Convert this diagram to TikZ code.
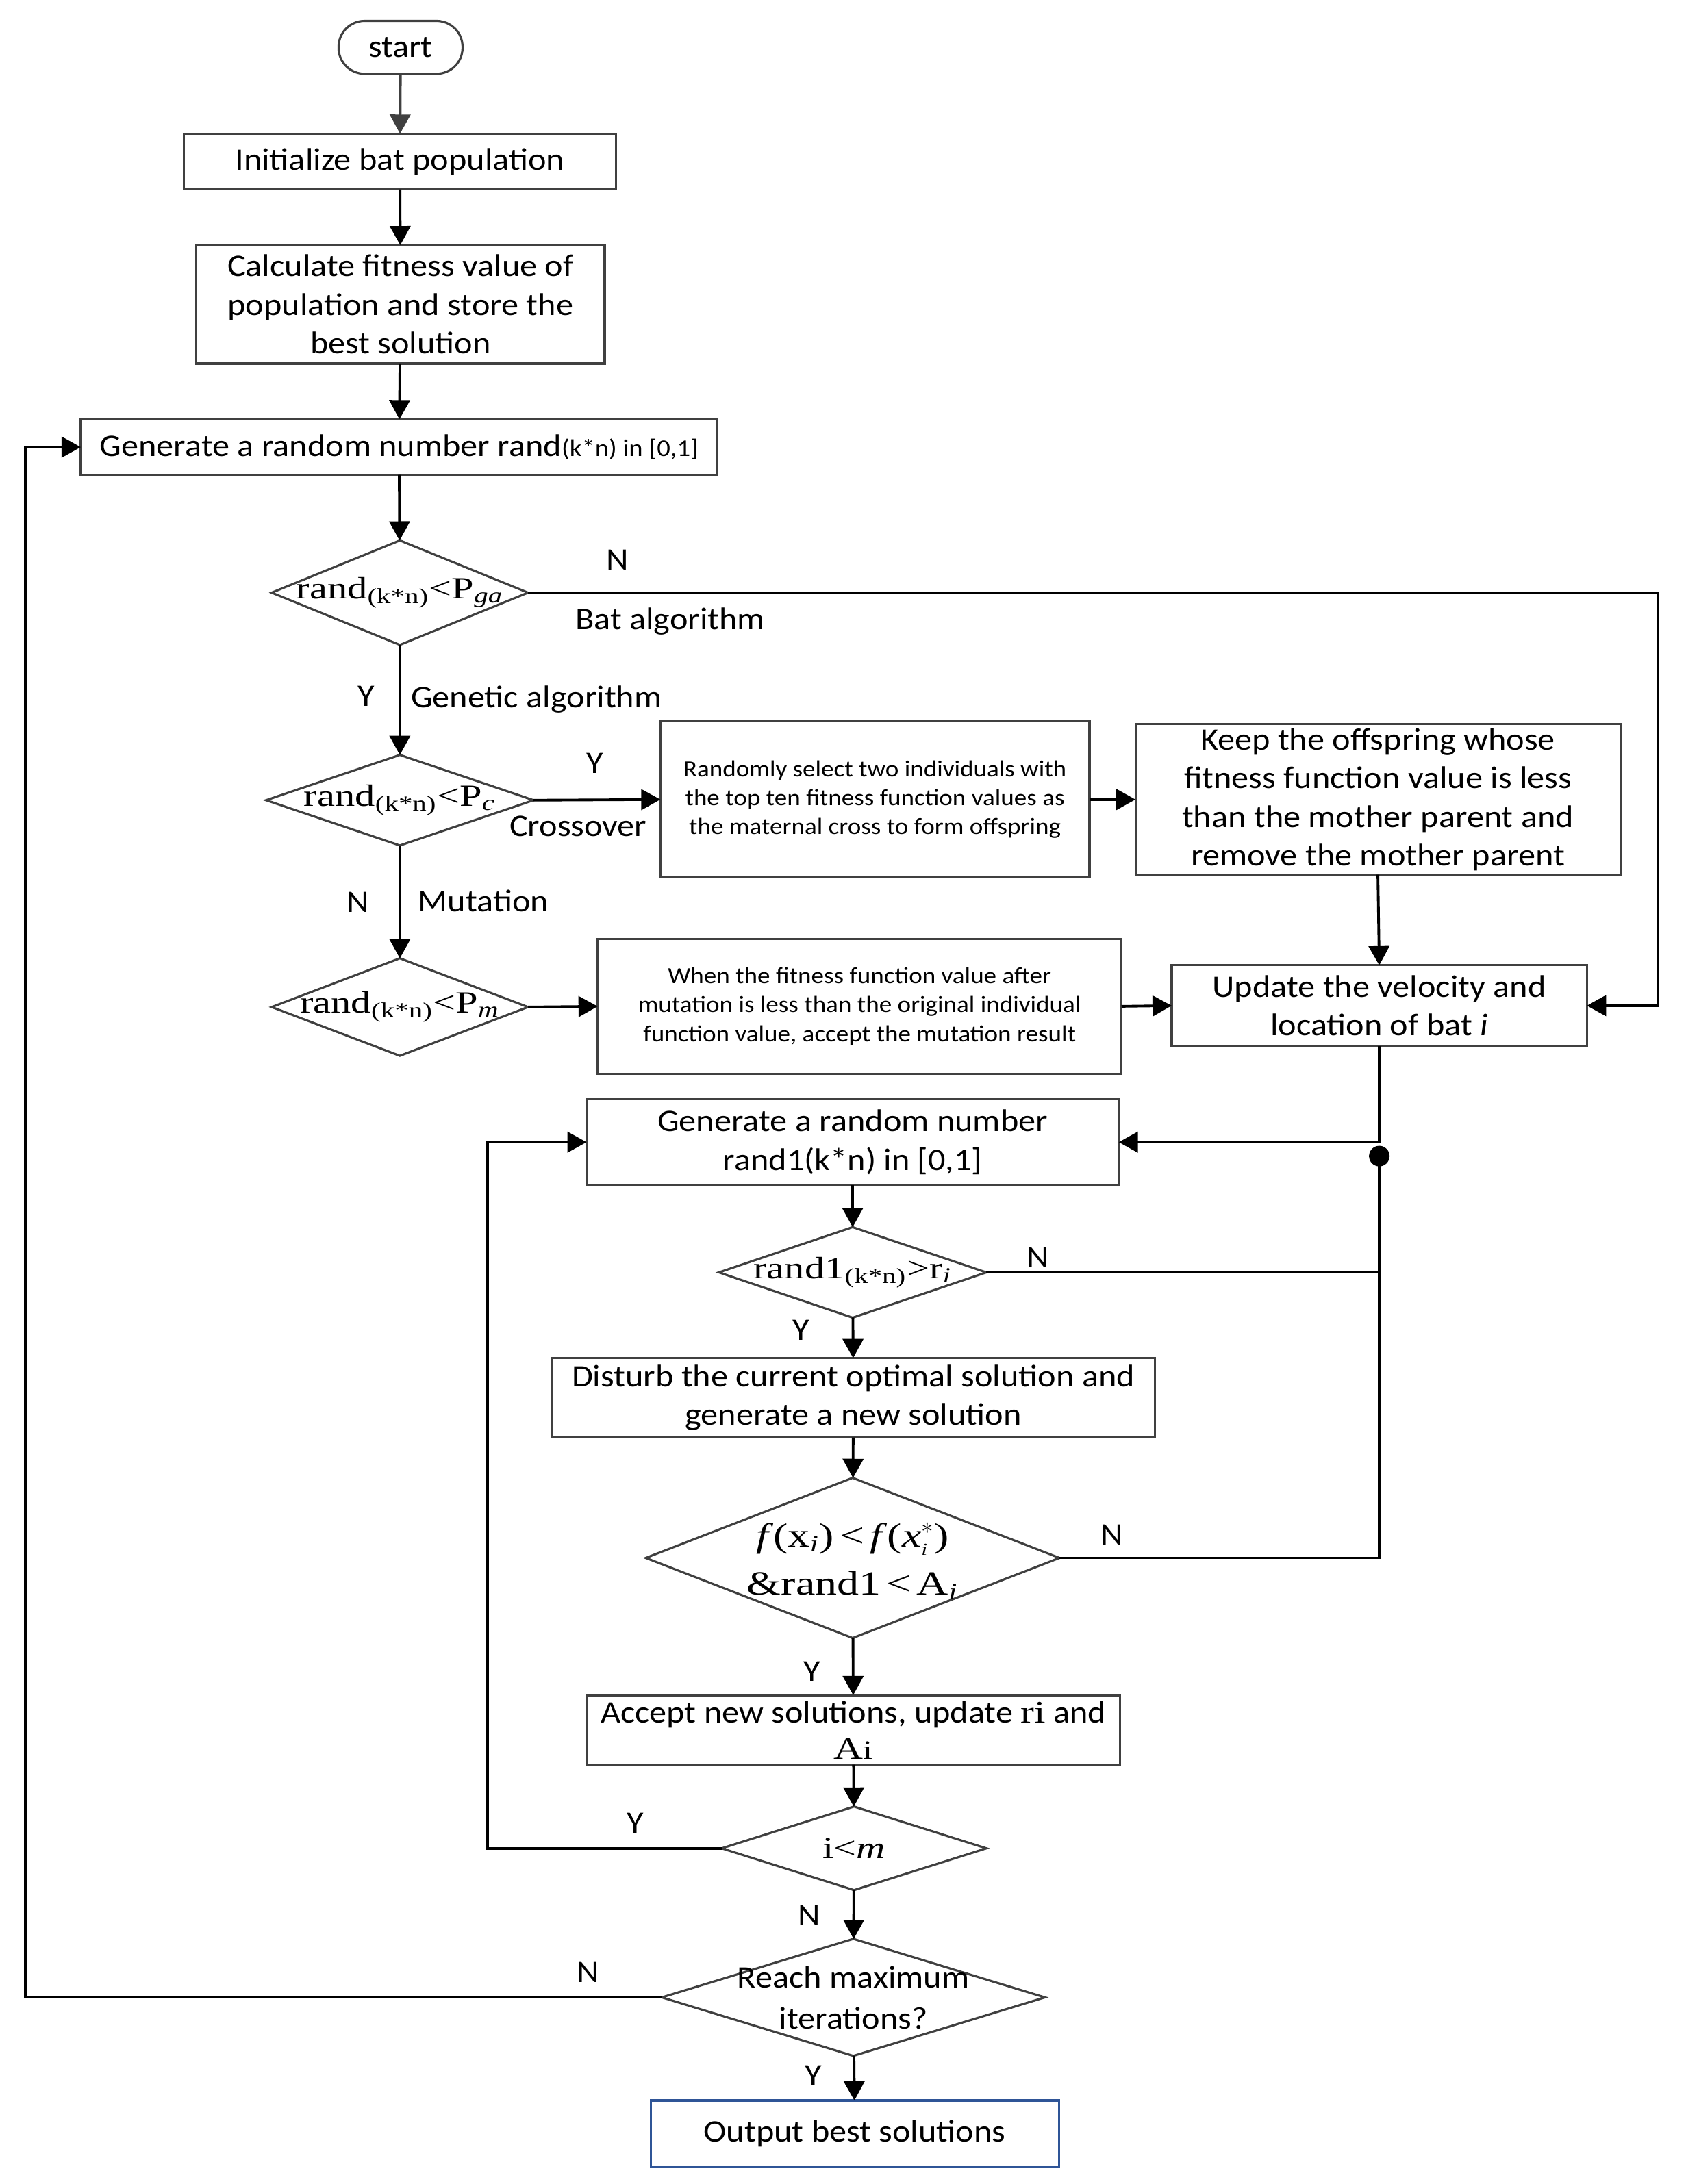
\documentclass[tikz,border=0pt]{standalone}
\usepackage{fontspec}
\setmainfont{Carlito}[FakeStretch=1.1]
\newfontfamily\serif{Liberation Serif}[FakeStretch=1.3]
\usetikzlibrary{shapes.geometric,arrows.meta}
\definecolor{boxgray}{RGB}{64,64,64}
\definecolor{outblue}{RGB}{47,85,151}
\def\u{0.020347cm}
\tikzset{
  box/.style={draw=boxgray, line width=0.9pt, fill=white, align=center, inner sep=0pt, outer sep=0pt,
    font=\fontsize{13}{16}\selectfont},
  smallbox/.style={box, font=\fontsize{9.6}{12}\selectfont},
  dia/.style={draw=boxgray, line width=0.9pt, diamond, inner sep=0pt, outer sep=0pt, fill=white},
  diatext/.style={align=center, inner sep=0pt, font=\serif\fontsize{12.8}{21}\selectfont},
  arr/.style={line width=1.1pt, -{Triangle[length=0.28cm,width=0.3cm]}},
  ln/.style={line width=1.1pt},
  lab/.style={font=\fontsize{13}{16}\selectfont, inner sep=0pt},
}
\begin{document}
\begin{tikzpicture}[x=0.020347cm, y=-0.020347cm]
\useasboundingbox[fill=white] (0,0) rectangle (1210,1568);

% nodes
\node[box, rounded corners=0.38cm, minimum width=89*\u, minimum height=38*\u] (start) at (287.5,34) {start};
\node[box, minimum width=310*\u, minimum height=40*\u] (init) at (287,116) {Initialize bat population};
\node[box, minimum width=293*\u, minimum height=85*\u] (calc) at (287.5,218.5) {Calculate fitness value of\\population and store the\\best solution};
\node[box, minimum width=457*\u, minimum height=40*\u] (gen) at (286.5,321) {Generate a random number rand{\fontsize{10}{12}\selectfont(k*n) in [0,1]}};

\node[dia, minimum width=184*\u, minimum height=75*\u] (d1) at (287,425.5) {};
\node[diatext] (d1t) at (d1) {rand\textsubscript{(k*n)}<P\textsubscript{\textit{ga}}};
\node[dia, minimum width=192*\u, minimum height=65*\u] (d2) at (287,574.5) {};
\node[diatext] (d2t) at (d2) {rand\textsubscript{(k*n)}<P\textsubscript{\textit{c}}};
\node[dia, minimum width=184*\u, minimum height=70*\u] (d3) at (287,723) {};
\node[diatext] (d3t) at (d3) {rand\textsubscript{(k*n)}<P\textsubscript{\textit{m}}};

\node[smallbox, minimum width=308*\u, minimum height=112*\u] (rsel) at (628,574) {Randomly select two individuals with\\the top ten fitness function values as\\the maternal cross to form offspring};
\node[box, minimum width=348*\u, minimum height=108*\u, font=\fontsize{13}{16}\selectfont] (keep) at (989,574) {Keep the offspring whose\\fitness function value is less\\than the mother parent and\\remove the mother parent};
\node[smallbox, minimum width=376*\u, minimum height=97*\u] (when) at (617,722.5) {When the fitness function value after\\mutation is less than the original individual\\function value, accept the mutation result};
\node[box, minimum width=298*\u, minimum height=58*\u] (upd) at (990,722) {Update the velocity and\\location of bat \textit{i}};

\node[box, minimum width=382*\u, minimum height=62*\u] (gen2) at (612,820) {Generate a random number\\rand1(k*n) in [0,1]};
\node[dia, minimum width=192*\u, minimum height=65*\u] (d4) at (612,913.5) {};
\node[diatext] (d4t) at (d4) {rand1\textsubscript{(k*n)}>r\textsubscript{\textit{i}}};
\node[box, minimum width=433*\u, minimum height=57*\u] (dist) at (612.5,1003.5) {Disturb the current optimal solution and\\generate a new solution};
\node[dia, minimum width=297*\u, minimum height=115*\u] (d5) at (612,1118.5) {};
\node[diatext, font=\serif\fontsize{14}{20}\selectfont] (d5t) at (612,1121) {\textit{f}(x\textsubscript{\textit{i}})\,<\,\textit{f}(\textit{x}$_{\mbox{\scriptsize\serif\textit{i}}}^{*}$)\\\&rand1\,<\,A\textsubscript{\textit{i}}};
\node[box, minimum width=383*\u, minimum height=50*\u, font=\fontsize{13}{15}\selectfont] (acc) at (612.5,1242) {Accept new solutions, update {\serif ri} and\\{\serif A\fontsize{11}{12}\selectfont i}};
\node[dia, minimum width=190*\u, minimum height=60*\u] (d6) at (613,1327) {};
\node[diatext] (d6t) at (d6) {i<\textit{m}};
\node[dia, minimum width=275*\u, minimum height=84*\u] (d7) at (612.5,1434) {};
\node[box, draw=none, fill=none, font=\fontsize{13}{17}\selectfont] (d7t) at (d7) {Reach maximum\\iterations?};
\node[box, draw=outblue, minimum width=293*\u, minimum height=48*\u] (out) at (613.5,1532) {Output best solutions};

% connectors
\draw[arr, draw=boxgray, -{Triangle[length=0.28cm,width=0.3cm,fill=boxgray]}] (start) -- (init);
\draw[arr] (init) -- (calc);
\draw[arr] (calc) -- (gen);
\draw[arr] (gen) -- (d1);
\coordinate (r1) at (1190,425.5);
\draw[arr] (d1.east) -- (r1) |- (upd.east);
\draw[arr] (d1) -- (d2);
\draw[arr] (d2.east) -- (rsel.west);
\draw[arr] (rsel.east) -- (keep.west);
\draw[arr] (keep.south) -- (upd.north);
\draw[arr] (d2) -- (d3);
\draw[arr] (d3.east) -- (when.west);
\draw[arr] (when.east) -- (upd.west);
\draw[arr] (upd.south) |- (gen2.east);
\coordinate (dot) at (990,830);
\fill (dot) circle (0.15cm);
\draw[ln] (d4.east) -| (dot);
\draw[ln] (d5.east) -| (dot);
\draw[arr] (gen2) -- (d4);
\draw[arr] (d4) -- (dist);
\draw[arr] (dist) -- (d5);
\draw[arr] (d5) -- (acc);
\draw[arr] (acc) -- (d6);
\coordinate (l2) at (350,1327);
\draw[arr] (d6.west) -- (l2) |- (gen2.west);
\draw[arr] (d6) -- (d7);
\coordinate (l1) at (18,1434);
\draw[arr] (d7.west) -- (l1) |- (gen.west);
\draw[arr] (d7) -- (out);

% labels
\node[lab] (n1) at (443,402) {N};
\node[lab] (bat) at (481,446) {Bat algorithm};
\node[lab] (y1) at (263,500) {Y};
\node[lab] (ga) at (385,502) {Genetic algorithm};
\node[lab] (y2) at (427,548) {Y};
\node[lab] (cross) at (415,593) {Crossover};
\node[lab] (n2) at (257,648) {N};
\node[lab] (mut) at (347,647) {Mutation};
\node[lab] (n3) at (745,903) {N};
\node[lab] (y3) at (575,955) {Y};
\node[lab] (n4) at (798,1102) {N};
\node[lab] (y4) at (583,1200) {Y};
\node[lab] (y5) at (456,1309) {Y};
\node[lab] (n5) at (581,1375) {N};
\node[lab] (n6) at (422,1416) {N};
\node[lab] (y6) at (584,1490) {Y};
\end{tikzpicture}
\end{document}
